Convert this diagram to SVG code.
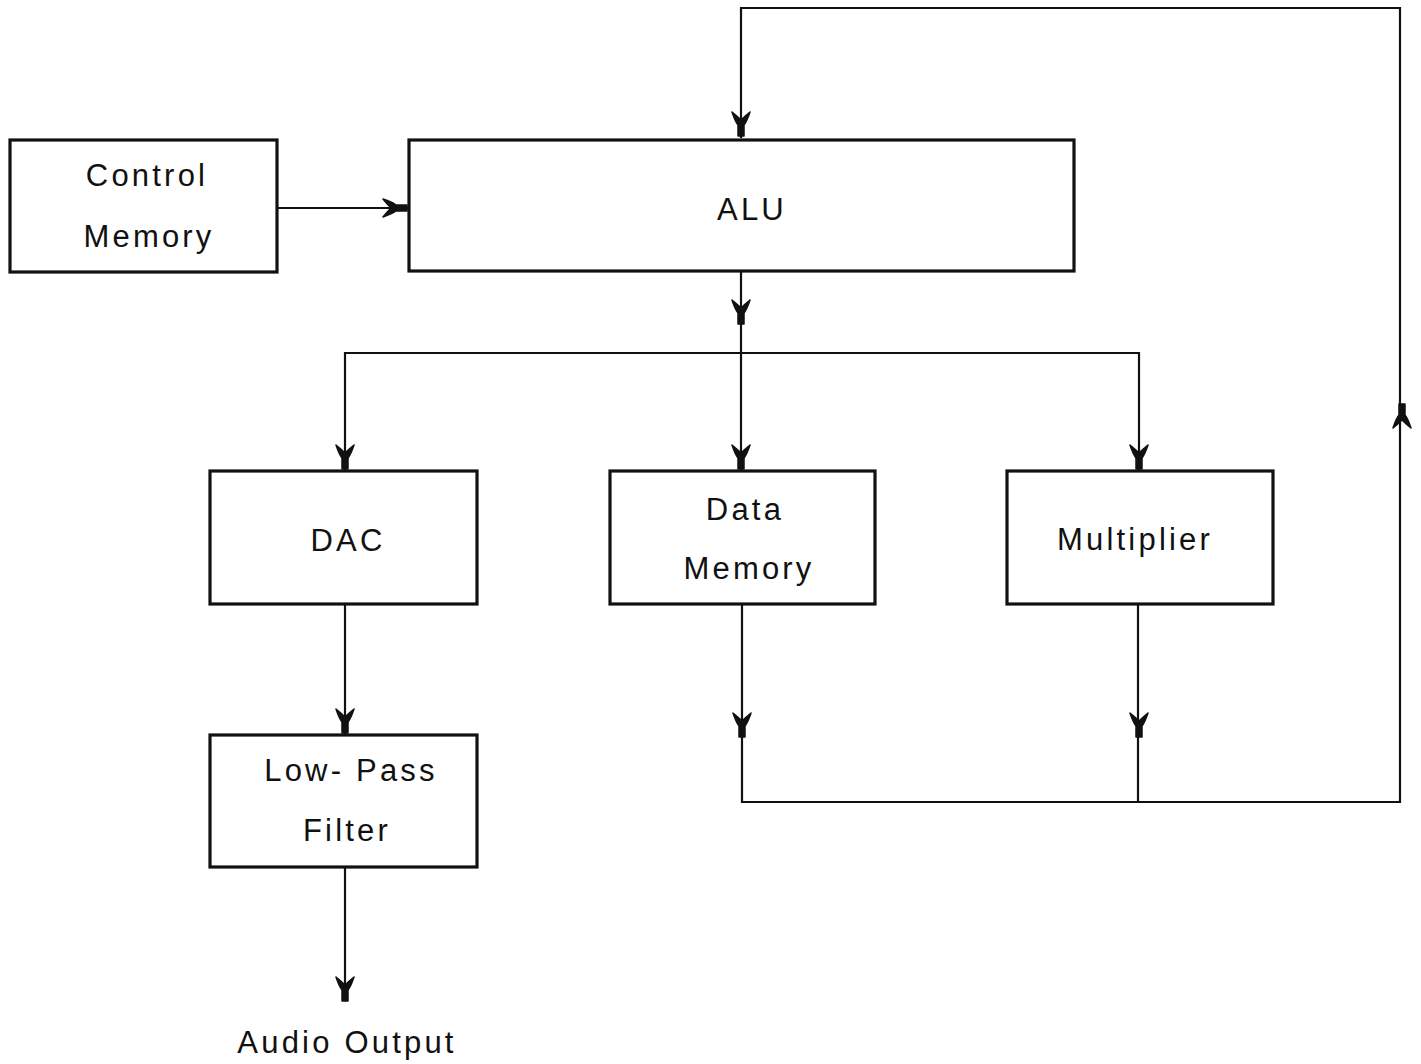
<svg xmlns="http://www.w3.org/2000/svg" width="1421" height="1064" viewBox="0 0 1421 1064">
  <style>
    .box { fill: #fff; stroke: #111; stroke-width: 3.2; }
    .wire { fill: none; stroke: #111; stroke-width: 2.2; }
    .lbl { font-family: "Liberation Sans", Arial, sans-serif; font-size: 31px; letter-spacing: 3.2px; fill: #111; text-anchor: middle; }
    .head { fill: #111; stroke: #111; stroke-width: 1.5; stroke-linejoin: round; }
  </style>
  <defs>
    <!-- Y-shaped barbed arrowhead, tip at origin, pointing down (+y) -->
    <path id="yhead" d="M -9,-24 Q -6,-15 -3,-11 L -3,0 L 3,0 L 3,-11 Q 6,-15 9,-24 Q 4,-20 0,-16 Q -4,-20 -9,-24 Z"/>
  </defs>
  <rect width="1421" height="1064" fill="#fff"/>

  <g id="connectors">
    <!-- feedback loop from Data Memory / Multiplier back to ALU -->
    <polyline class="wire" points="741,138 741,8 1400,8 1400,802 742,802 742,604"/>
    <line class="wire" x1="1138" y1="604" x2="1138" y2="802"/>
    <!-- Control Memory to ALU -->
    <line class="wire" x1="277" y1="208" x2="409" y2="208"/>
    <!-- ALU output bus -->
    <line class="wire" x1="741" y1="271" x2="741" y2="471"/>
    <polyline class="wire" points="345,471 345,353 1139,353 1139,471"/>
    <!-- DAC to filter, filter to output -->
    <line class="wire" x1="345" y1="604" x2="345" y2="735"/>
    <line class="wire" x1="345" y1="867" x2="345" y2="1000"/>

    <g class="head">
      <use href="#yhead" transform="translate(741,136)"/>
      <use href="#yhead" transform="translate(407,208) rotate(-90)"/>
      <use href="#yhead" transform="translate(741,324)"/>
      <use href="#yhead" transform="translate(345,469)"/>
      <use href="#yhead" transform="translate(741,469)"/>
      <use href="#yhead" transform="translate(1139,469)"/>
      <use href="#yhead" transform="translate(345,733)"/>
      <use href="#yhead" transform="translate(742,737)"/>
      <use href="#yhead" transform="translate(1139,737)"/>
      <use href="#yhead" transform="translate(1402,404) rotate(180)"/>
      <use href="#yhead" transform="translate(345,1001)"/>
    </g>
  </g>

  <g id="control-memory">
    <rect class="box" x="10" y="140" width="267" height="132"/>
    <text class="lbl" x="147" y="186">Control</text>
    <text class="lbl" x="149" y="247">Memory</text>
  </g>

  <g id="alu">
    <rect class="box" x="409" y="140" width="665" height="131"/>
    <text class="lbl" x="752" y="220">ALU</text>
  </g>

  <g id="dac">
    <rect class="box" x="210" y="471" width="267" height="133"/>
    <text class="lbl" x="348" y="551">DAC</text>
  </g>

  <g id="data-memory">
    <rect class="box" x="610" y="471" width="265" height="133"/>
    <text class="lbl" x="745" y="520">Data</text>
    <text class="lbl" x="749" y="579">Memory</text>
  </g>

  <g id="multiplier">
    <rect class="box" x="1007" y="471" width="266" height="133"/>
    <text class="lbl" x="1135" y="550">Multiplier</text>
  </g>

  <g id="low-pass-filter">
    <rect class="box" x="210" y="735" width="267" height="132"/>
    <text class="lbl" x="351" y="781">Low- Pass</text>
    <text class="lbl" x="347" y="841">Filter</text>
  </g>

  <g id="audio-output">
    <text class="lbl" x="347" y="1053">Audio Output</text>
  </g>
</svg>
